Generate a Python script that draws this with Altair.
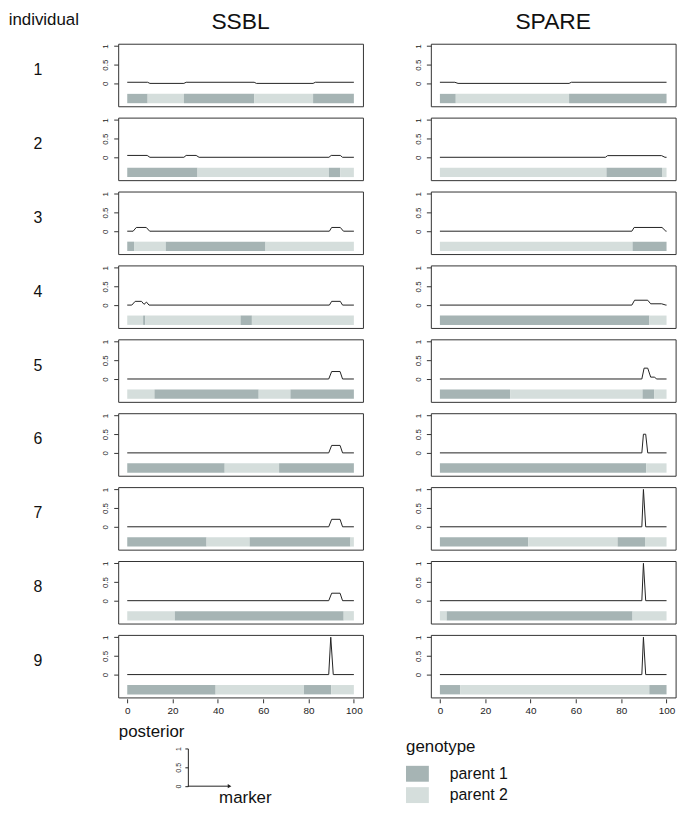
import altair as alt
import pandas as pd

METHODS = ["SSBL", "SPARE"]
INDIVIDUALS = [1, 2, 3, 4, 5, 6, 7, 8, 9]
GENOTYPES = ["parent 1", "parent 2"]
GENO_COLORS = ["#a6b4b4", "#d5dedc"]
X_TICKS = [0, 20, 40, 60, 80, 100]
Y_TICKS = [0, 0.5, 1]

# genotype segments per individual: (start marker, end marker, parent)
SSBL_GENO = [
    [(0, 9, 1), (9, 25, 2), (25, 56, 1), (56, 82, 2), (82, 100, 1)],
    [(0, 31, 1), (31, 89, 2), (89, 94, 1), (94, 100, 2)],
    [(0, 3, 1), (3, 17, 2), (17, 61, 1), (61, 100, 2)],
    [(0, 7, 2), (7, 8, 1), (8, 50, 2), (50, 55, 1), (55, 100, 2)],
    [(0, 12, 2), (12, 58, 1), (58, 72, 2), (72, 100, 1)],
    [(0, 43, 1), (43, 67, 2), (67, 100, 1)],
    [(0, 35, 1), (35, 54, 2), (54, 98.5, 1), (98.5, 100, 2)],
    [(0, 21, 2), (21, 95.5, 1), (95.5, 100, 2)],
    [(0, 39, 1), (39, 78, 2), (78, 90, 1), (90, 100, 2)],
]
SPARE_GENO = [
    [(0, 7, 1), (7, 57, 2), (57, 100, 1)],
    [(0, 73.5, 2), (73.5, 98, 1), (98, 100, 2)],
    [(0, 85, 2), (85, 100, 1)],
    [(0, 92.4, 1), (92.4, 100, 2)],
    [(0, 31, 1), (31, 89.4, 2), (89.4, 94.5, 1), (94.5, 100, 2)],
    [(0, 91, 1), (91, 100, 2)],
    [(0, 39, 1), (39, 78.4, 2), (78.4, 90.5, 1), (90.5, 100, 2)],
    [(0, 3, 2), (3, 85, 1), (85, 100, 2)],
    [(0, 9, 1), (9, 92.4, 2), (92.4, 100, 1)],
]

# posterior curve breakpoints per individual: (marker, posterior)
SSBL_POST = [
    [(0, 0.03), (9, 0.03), (10, 0), (25, 0), (26, 0.03), (56, 0.03), (57, 0), (82, 0), (83, 0.03), (100, 0.03)],
    [(0, 0.05), (8.8, 0.05), (10, 0), (25, 0), (26, 0.05), (30.4, 0.05), (31.7, 0), (89, 0), (90, 0.05), (94, 0.05), (95, 0), (100, 0)],
    [(0, 0), (2.6, 0), (4, 0.1), (8.4, 0.1), (9.9, 0), (89.2, 0), (90.2, 0.1), (94, 0.1), (95.4, 0), (100, 0)],
    [(0, 0), (2, 0), (3.5, 0.1), (6.3, 0.1), (7.4, 0.02), (8.5, 0.08), (9.6, 0), (89.2, 0), (90.2, 0.1), (94, 0.1), (95, 0), (100, 0)],
    [(0, 0), (88.9, 0), (90.2, 0.2), (93.9, 0.2), (95, 0), (100, 0)],
    [(0, 0), (88.9, 0), (90.2, 0.2), (93.9, 0.2), (95, 0), (100, 0)],
    [(0, 0), (88.9, 0), (90.2, 0.2), (93.9, 0.2), (95, 0), (100, 0)],
    [(0, 0), (88.9, 0), (90.2, 0.2), (93.9, 0.2), (95, 0), (100, 0)],
    [(0, 0), (88.9, 0), (89.8, 1), (90.9, 0), (100, 0)],
]
SPARE_POST = [
    [(0, 0.03), (6.6, 0.03), (8, 0), (57, 0), (58, 0.03), (100, 0.03)],
    [(0, 0), (73, 0), (74, 0.045), (97.8, 0.045), (99.3, 0), (100, 0)],
    [(0, 0), (84.7, 0), (85.7, 0.1), (98, 0.1), (99.7, 0), (100, 0)],
    [(0, 0), (84.7, 0), (85.9, 0.13), (91.7, 0.13), (93, 0.035), (97.8, 0.035), (99.7, 0), (100, 0)],
    [(0, 0), (89.1, 0), (90.1, 0.29), (91.7, 0.29), (93, 0.05), (94.6, 0.05), (95.7, 0), (100, 0)],
    [(0, 0), (89.1, 0), (89.8, 0.5), (90.8, 0.5), (91.7, 0), (100, 0)],
    [(0, 0), (89.1, 0), (89.8, 1), (90.8, 0), (100, 0)],
    [(0, 0), (89.1, 0), (89.8, 1), (90.8, 0), (100, 0)],
    [(0, 0), (89.1, 0), (89.8, 1), (90.8, 0), (100, 0)],
]

# key illustration: a unit posterior axis and a marker axis arrow
KEY_AXIS = {"x": [0], "x2": [1], "y": [0]}

rows = []
for method, geno, post in ((METHODS[0], SSBL_GENO, SSBL_POST), (METHODS[1], SPARE_GENO, SPARE_POST)):
    for ind, segs, pts in zip(INDIVIDUALS, geno, post):
        for a, b, p in segs:
            rows.append(dict(method=method, ind=ind, kind="geno", x=a, x2=b, y=None, geno=GENOTYPES[p - 1]))
        for x, y in pts:
            rows.append(dict(method=method, ind=ind, kind="post", x=x, x2=None, y=y, geno=None))
df = pd.DataFrame(rows)

FONT = "Liberation Sans"
xs = alt.Scale(domain=[-4, 104], nice=False, zero=False)
ys = alt.Scale(domain=[-0.612, 1.062], nice=False, zero=False)
xaxis = alt.Axis(values=X_TICKS, title=None, grid=False, domain=False, tickSize=4,
                 tickColor="#333", labelFontSize=10, labelPadding=3, labelColor="#222",
                 labelFlush=False)
yaxis = alt.Axis(values=Y_TICKS, format="~g", title=None, grid=False, domain=False,
                 tickSize=4.5, tickColor="#333", labelFontSize=8, labelAngle=270,
                 labelPadding=4, labelColor="#222", labelFlush=False, labelOverlap=False)

rect = alt.Chart().transform_filter(alt.datum.kind == "geno").mark_rect().encode(
    x=alt.X("x:Q", scale=xs, axis=xaxis),
    x2="x2:Q",
    y=alt.YDatum(-0.28, type="quantitative", scale=ys, axis=yaxis),
    y2=alt.Y2Datum(-0.53),
    color=alt.Color(
        "geno:N",
        scale=alt.Scale(domain=GENOTYPES, range=GENO_COLORS),
        legend=alt.Legend(
            title="genotype", orient="none", legendX=290, legendY=701,
            symbolType="M-1,-0.696H1V0.696H-1Z", symbolSize=529, symbolStrokeWidth=0,
            symbolOpacity=1, labelFontSize=16, titleFontSize=17, titleFontWeight="normal",
            labelOffset=21, rowPadding=1.5, titlePadding=6, labelColor="#111", titleColor="#111",
        ),
    ),
)
line = alt.Chart().transform_filter(alt.datum.kind == "post").mark_line(
    color="#222", strokeWidth=1
).encode(
    x=alt.X("x:Q", scale=xs, axis=xaxis),
    y=alt.Y("y:Q", scale=ys, axis=yaxis),
)

panels = alt.layer(rect, line, data=df).properties(width=246.6, height=63).facet(
    row=alt.Row("ind:O", header=alt.Header(title=None, labelAngle=0, labelOrient="left",
                                            labelAlign="center", labelBaseline="alphabetic",
                                            labelFontSize=16, labelPadding=54, labelColor="#111")),
    column=alt.Column("method:N", sort=METHODS,
                      header=alt.Header(title=None, labelFontSize=23, labelPadding=-9,
                                        labelBaseline="alphabetic", labelColor="#111")),
    spacing={"row": 9.45, "column": 49},
).resolve_axis(y="independent")

# key chart: plot area starts left of the drawn key axis
KEY_LEFT = 70.2
KEY_W = 42
mx = alt.Scale(domain=[-KEY_LEFT / KEY_W, 1], nice=False, zero=False)
my = alt.Scale(domain=[0, 1], nice=False, zero=False)
kx_axis = alt.Axis(ticks=False, labels=False, domain=False, grid=False,
                   title="marker", titleAngle=0, titleX=KEY_LEFT + 31, titleY=11,
                   titleAlign="left", titleBaseline="middle", titleFontSize=17,
                   titleFontWeight="normal", titleColor="#111")
ky_axis = alt.Axis(values=Y_TICKS, format="~g", grid=False, domain=True, domainColor="#222",
                   offset=-KEY_LEFT, tickSize=3, tickColor="#222", labelAngle=270,
                   labelFontSize=7, labelPadding=3, labelColor="#222", labelFlush=False,
                   labelOverlap=False, title="posterior", titleAngle=0, titleAlign="left",
                   titleBaseline="middle", titleX=-70, titleY=-17, titleFontSize=17,
                   titleFontWeight="normal", titleColor="#111")
key_base = alt.Chart(pd.DataFrame(KEY_AXIS))
key_rule = key_base.mark_rule(color="#222", strokeWidth=1).encode(
    x=alt.X("x:Q", scale=mx, axis=kx_axis), x2="x2:Q",
    y=alt.Y("y:Q", scale=my, axis=ky_axis),
)
key_arrow = key_base.mark_point(shape="triangle-right", filled=True, size=18,
                                color="#222", opacity=1).encode(
    x=alt.X("x2:Q", scale=mx, axis=kx_axis),
    y=alt.Y("y:Q", scale=my, axis=ky_axis),
)
key = alt.layer(key_rule, key_arrow).properties(
    width=KEY_LEFT + KEY_W, height=38, view=alt.ViewBackground(stroke="transparent")
)

chart = alt.vconcat(panels, key, spacing=6).properties(
    title=alt.TitleParams("individual", anchor="start", frame="bounds", fontSize=17,
                          fontWeight="normal", offset=-18, dx=-25, color="#111"),
    padding=0,
).configure(font=FONT).configure_view(stroke="#333", strokeWidth=1)

chart.save("out.html", embed_options={"renderer": "svg", "actions": False})
